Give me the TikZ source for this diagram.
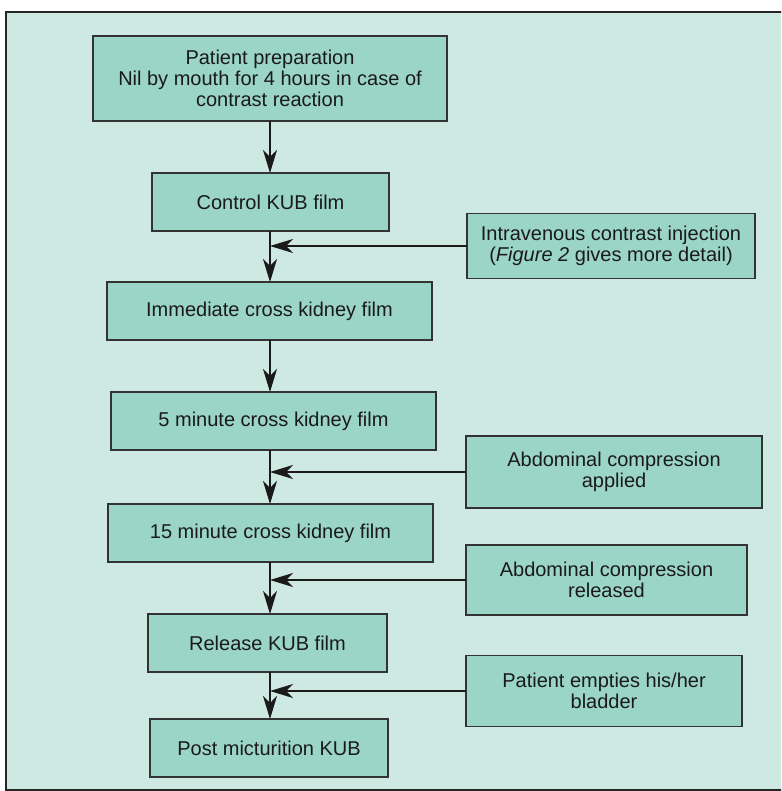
\documentclass[tikz,border=0pt]{standalone}
\usepackage{fontspec}
\setmainfont{Liberation Sans}
\usetikzlibrary{arrows.meta}
\definecolor{Pale}{HTML}{CEE8E2}
\definecolor{Mint}{HTML}{9BD5C7}
\definecolor{Ink}{HTML}{1A1A1A}

\begin{document}
\begin{tikzpicture}[x=1pt,y=-1pt,>={Stealth[length=23pt,width=14pt,inset=7pt]},
    stage/.style={draw=black!80,fill=Mint,line width=1.1pt,inner sep=0pt,outer sep=0pt,align=center,text=Ink,font=\fontsize{20}{21}\selectfont},
    link/.style={->,line width=1.3pt,draw=Ink}]
    \useasboundingbox (0,0) rectangle (781,791);
    \clip (0,0) rectangle (781,791);
    \draw[line width=1.6pt,draw=black!85,fill=Pale] (6,12) rectangle (800,790);
    \coordinate (spine) at (270,0);
    % main sequence
    \node[stage,minimum width=354pt,minimum height=85pt] (prep) at (270,78.5) {Patient preparation\\Nil by mouth for 4 hours in case of\\contrast reaction};
    \node[stage,minimum width=237pt,minimum height=58pt] (ctrl) at (270.5,202) {Control KUB film};
    \node[stage,minimum width=325pt,minimum height=58pt] (imm) at (269.5,311) {Immediate cross kidney film};
    \node[stage,minimum width=325pt,minimum height=58pt] (five) at (273.5,421) {5 minute cross kidney film};
    \node[stage,minimum width=325pt,minimum height=58pt] (fift) at (270.5,533) {15 minute cross kidney film};
    \node[stage,minimum width=239pt,minimum height=58pt] (rel) at (267.5,643) {Release KUB film};
    \node[stage,minimum width=238pt,minimum height=58pt] (post) at (269,748) {Post micturition KUB};
    % side events
    \node[stage,minimum width=288pt,minimum height=65pt] (inj) at (611,246) {Intravenous contrast injection\\(\textit{Figure 2} gives more detail)};
    \node[stage,minimum width=296pt,minimum height=72pt] (appl) at (614,472) {Abdominal compression\\applied};
    \node[stage,minimum width=281pt,minimum height=70pt] (reld) at (606.5,580) {Abdominal compression\\released};
    \node[stage,minimum width=276pt,minimum height=71pt] (empt) at (604,691) {Patient empties his/her\\bladder};
    \foreach \u/\v in {prep/ctrl,ctrl/imm,imm/five,five/fift,fift/rel,rel/post}\draw[link] (\u.south -| spine)--(\v.north -| spine);
    \foreach \s in {inj,appl,reld,empt}\draw[link] (\s.west)--(\s.west -| spine);
  \end{tikzpicture}
\end{document}
